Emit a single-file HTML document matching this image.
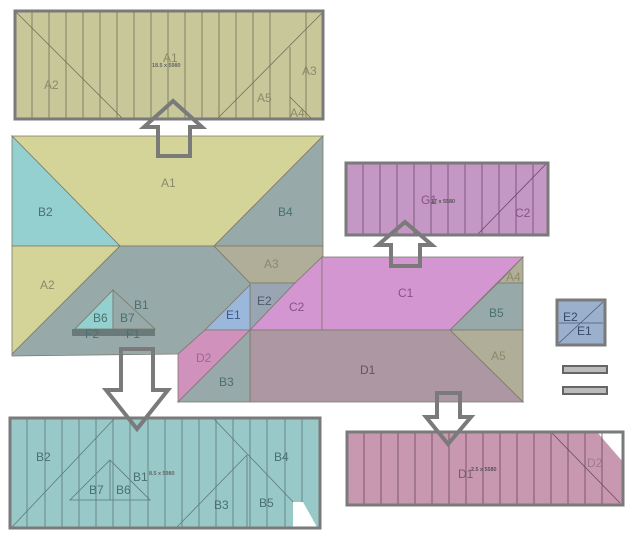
<!DOCTYPE html>
<html><head><style>body{margin:0;background:#fff}svg{display:block}text{font-family:"Liberation Sans",sans-serif;font-size:12px}</style></head><body>
<svg width="631" height="541" viewBox="0 0 631 541" xmlns="http://www.w3.org/2000/svg">
<rect x="15" y="11" width="308" height="108" fill="#c8c79a"/>
<g stroke="#6f6f55" stroke-width="0.8">
<path d="M32 11V119M49 11V119M66 11V119M83 11V119M100 11V119M117 11V119M134 11V119M151 11V119M168 11V119M185 11V119M202 11V119M219 11V119M236 11V119M253 11V119M270 11V119M290 47V119M306 11V119"/>
<path d="M16 12L122 118M323 12L218 118M290 97L311 118" fill="none"/>
</g>
<rect x="15" y="11" width="308" height="108" fill="none" stroke="#7a7a7a" stroke-width="3"/>
<g fill="#8a8a6a"><text x="163" y="62">A1</text><text x="44" y="89">A2</text><text x="302" y="75">A3</text><text x="257" y="102">A5</text><text x="290" y="117">A4</text></g>
<text transform="translate(152,67) scale(0.45)" font-size="12" font-weight="bold" fill="#666">18.5 x 5980</text>

<g stroke="#7a7a6a" stroke-width="0.8">
<polygon points="12,136 323,136 214,246 120,246" fill="#d4d398"/>
<polygon points="12,136 120,246 12,246" fill="#94d0d0"/>
<polygon points="323,136 323,246 214,246" fill="#97a9a8"/>
<polygon points="12,246 120,246 12,354" fill="#d4d398"/>
<polygon points="120,246 214,246 250,283 250,330 205,330 178,354 12,356 12,354" fill="#97a9a8"/>
<polygon points="214,246 323,246 323,257 295,283 250,283" fill="#b0ad98"/>
<polygon points="250,283 295,283 250,330" fill="#9aa5b4"/>
<polygon points="322,257 322,330 250,330 295,283" fill="#d496d0"/>
<polygon points="322,257 523,257 450,330 322,330" fill="#d496d0"/>
<polygon points="523,257 523,283 498,283" fill="#b0ad98"/>
<polygon points="498,283 523,283 523,330 450,330" fill="#97a9a8"/>
<polygon points="450,330 523,330 523,402" fill="#b0ad98"/>
<polygon points="250,330 450,330 523,402 250,402" fill="#ad97a3"/>
<polygon points="250,285 250,330 205,330" fill="#9bb8dc"/>
<polygon points="205,330 250,330 178,402 178,354" fill="#d191bd"/>
<polygon points="250,330 250,402 178,402" fill="#97a9a8"/>
<polygon points="113,290 113,329 75,329" fill="#94d0d0"/>
<polygon points="113,290 155,329 113,329" fill="#97a9a8"/>
</g>
<rect x="72" y="329" width="83" height="7" fill="#6a7a7a"/>
<g fill="#4a7070"><text x="38" y="216">B2</text><text x="278" y="216">B4</text><text x="134" y="309">B1</text><text x="93" y="322">B6</text><text x="120" y="322">B7</text><text x="85" y="338" font-size="11">F2</text><text x="126" y="338" font-size="11">F1</text><text x="219" y="386">B3</text><text x="489" y="317">B5</text></g>
<g fill="#8a8a6a"><text x="161" y="187">A1</text><text x="40" y="289">A2</text><text x="264" y="268">A3</text><text x="506" y="281">A4</text><text x="491" y="360">A5</text></g>
<g fill="#8a508a"><text x="398" y="297">C1</text><text x="289" y="311">C2</text></g>
<text x="257" y="305" fill="#4a5a6a">E2</text><text x="226" y="319" fill="#3a5a8a">E1</text>
<text x="196" y="362" fill="#9a6a8a">D2</text><text x="360" y="374" fill="#6a5060">D1</text>

<rect x="10" y="418" width="310" height="110" fill="#98c8c8"/>
<g stroke="#5e7a7a" stroke-width="0.8" fill="none">
<path d="M27 418V528M45 418V528M62 418V528M79 418V528M96 418V528M113 418V528M130 418V528M148 418V528M165 418V528M182 418V528M199 418V528M216 418V528M233 418V528M250 418V528M267 418V528M285 418V528M302 418V528"/>
<path d="M12 527L115 418M213 418L317 527M247 455L177 527M247 455V527"/>
<polygon points="110,460 150,500 70,500"/><path d="M110 460V500"/>
</g>
<polygon points="293,502 303,502 317,527 293,527" fill="#fff"/>
<rect x="10" y="418" width="310" height="110" fill="none" stroke="#7a7a7a" stroke-width="3"/>
<g fill="#4a7070"><text x="36" y="461">B2</text><text x="133" y="481">B1</text><text x="89" y="494">B7</text><text x="116" y="494">B6</text><text x="274" y="461">B4</text><text x="214" y="509">B3</text><text x="259" y="507">B5</text></g>
<text transform="translate(149,475) scale(0.45)" font-size="12" font-weight="bold" fill="#666">8.5 x 5980</text>

<rect x="346" y="163" width="202" height="72" fill="#c497c4"/>
<g stroke="#6a4a6a" stroke-width="0.8" fill="none">
<path d="M363 163V235M380 163V235M397 163V235M414 163V235M431 163V235M448 163V235M465 163V235M482 163V235M499 163V235M516 163V235M533 163V235M547 163L477 235"/>
</g>
<rect x="346" y="163" width="202" height="72" fill="none" stroke="#7a7a7a" stroke-width="3"/>
<text x="421" y="204" fill="#8a508a">G1</text><text transform="translate(431,203) scale(0.45)" font-size="12" font-weight="bold" fill="#555">17 x 5580</text>
<text x="515" y="217" fill="#8a508a">C2</text>

<rect x="347" y="432" width="276" height="73" fill="#c898b0"/>
<polygon points="597,432 623,432 623,462" fill="#fff"/>
<g stroke="#6a4a5a" stroke-width="0.8" fill="none">
<path d="M364 432V505M381 432V505M398 432V505M415 432V505M432 432V505M449 432V505M466 432V505M483 432V505M500 432V505M517 432V505M534 432V505M551 432V505M568 432V505M585 432V505M602 432V505M551 432L620 503"/>
</g>
<rect x="347" y="432" width="276" height="73" fill="none" stroke="#7a7a7a" stroke-width="3"/>
<text x="458" y="478" fill="#7a5a6a">D1</text><text transform="translate(471,471) scale(0.45)" font-size="12" font-weight="bold" fill="#555">2.5 x 5580</text>
<text x="587" y="467" fill="#a07a90">D2</text>

<rect x="557" y="300" width="48" height="45" fill="#9ab0cc" stroke="#7a7a7a" stroke-width="3"/>
<path d="M559 343L603 302M559 323H603" stroke="#4a5a7a" stroke-width="0.8"/>
<text x="563" y="321" fill="#3a4a6a">E2</text><text x="577" y="335" fill="#3a4a6a">E1</text>
<rect x="563" y="366" width="44" height="7" fill="#bbb" stroke="#666" stroke-width="2"/>
<rect x="563" y="387" width="44" height="7" fill="#bbb" stroke="#666" stroke-width="2"/>

<g fill="none" stroke="#7a7a7a" stroke-width="4" stroke-linejoin="miter">
<polygon points="173,101 202,127 190,127 190,156 158,156 158,127 144,127"/>
<polygon points="121,349 153,349 153,390 168,390 137,429 106,390 121,390"/>
<polygon points="405,222 432,245 420,245 420,266 391,266 391,245 378,245"/>
<polygon points="437,393 460,393 460,417 471,417 448,444 426,417 437,417"/>
</g>
</svg>
</body></html>
